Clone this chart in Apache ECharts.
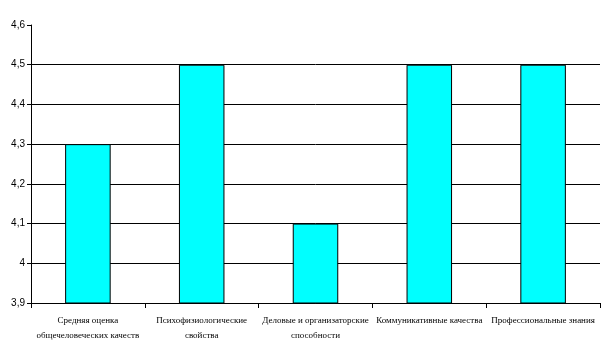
<!DOCTYPE html>
<html><head><meta charset="utf-8">
<script src="https://cdn.jsdelivr.net/npm/echarts@6/dist/echarts.min.js"></script>
<style>html,body{margin:0;padding:0;background:#fff}#c{width:615px;height:349px}</style>
</head><body><div id="c"></div>
<script>
const categories = [
  "Средняя оценка\nобщечеловеческих качеств",
  "Психофизиологические\nсвойства",
  "Деловые и организаторские\nспособности",
  "Коммуникативные качества",
  "Профессиональные знания"
];
const values = [4.3, 4.5, 4.1, 4.5, 4.5];
const yMin = 3.9, yMax = 4.6, yStep = 0.1;

const chart = echarts.init(document.getElementById('c'), null, {renderer: 'canvas'});
chart.setOption({
  animation: false,
  grid: {left: 31, right: 15, top: 25, bottom: 46},
  xAxis: {
    type: 'category',
    data: categories,
    axisLine: {lineStyle: {color: '#000', width: 1}},
    axisTick: {show: true, length: 5, lineStyle: {color: '#000'}},
    axisLabel: {
      interval: 0, margin: 10, color: '#000',
      fontFamily: 'Liberation Serif', fontSize: 9, lineHeight: 15
    },
    splitLine: {show: false}
  },
  yAxis: {
    type: 'value', min: yMin, max: yMax, interval: yStep,
    axisLine: {show: true, lineStyle: {color: '#000'}},
    axisTick: {show: true, length: 4, lineStyle: {color: '#000'}},
    axisLabel: {
      color: '#000', fontFamily: 'Liberation Sans', fontSize: 10, margin: 6,
      formatter: v => String(Math.round(v * 10) / 10).replace('.', ',')
    },
    splitLine: {show: true, lineStyle: {
      color: ['#000','#000','#000','#000','#000','#000','#000','rgba(0,0,0,0)'], width: 1}}
  },
  series: [{
    type: 'bar',
    data: values,
    barWidth: '40%',
    itemStyle: {color: '#00FFFF', borderColor: '#000', borderWidth: 1}
  }]
});
</script>
</body></html>
